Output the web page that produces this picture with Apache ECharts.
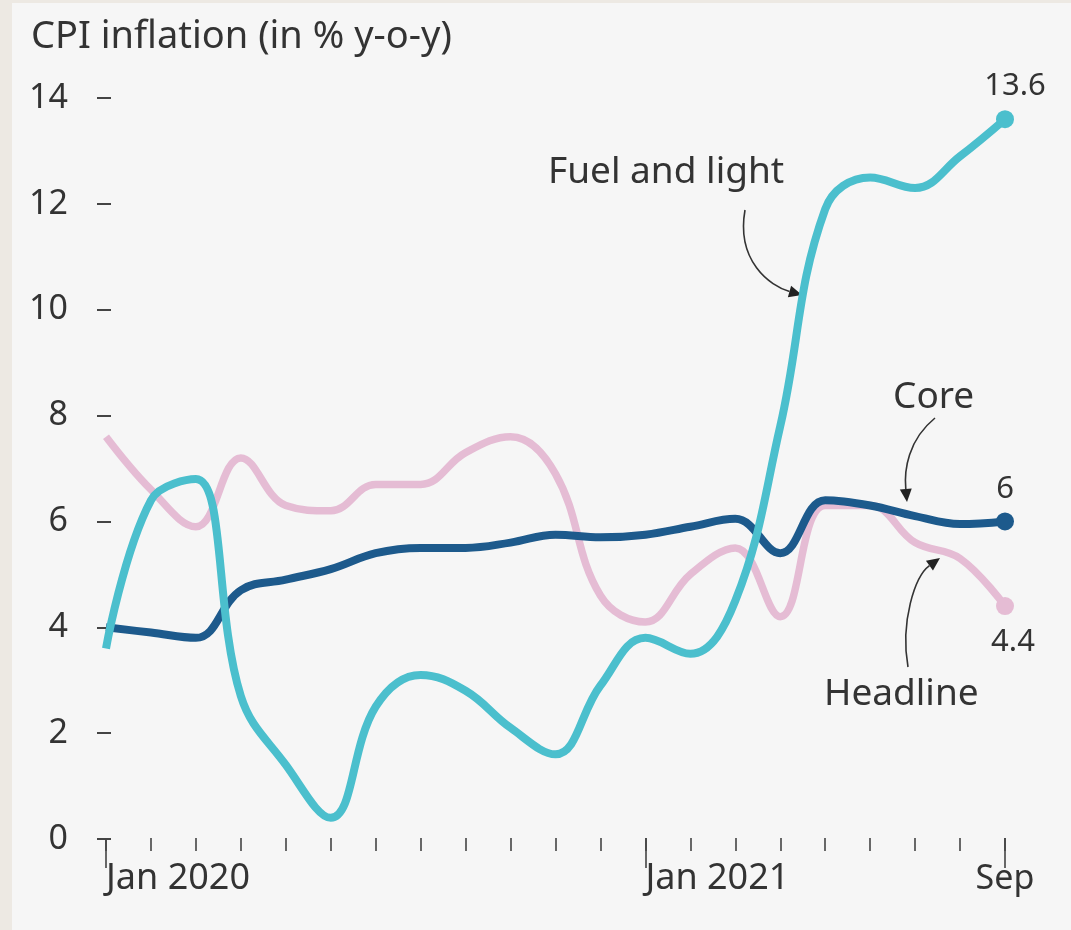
<!DOCTYPE html>
<html>
<head>
<meta charset="utf-8">
<script src="https://cdn.jsdelivr.net/npm/echarts@6/dist/echarts.min.js"></script>
<style>
  html, body { margin: 0; padding: 0; background: #ede9e3; }
  #chart { position: absolute; left: 12px; top: 3px; width: 1059px; height: 927px; background: #f6f6f6; }
</style>
</head>
<body>
<div id="chart"></div>
<script>
// months Jan 2020 .. Sep 2021
var months = ['Jan 2020', 'Feb 2020', 'Mar 2020', 'Apr 2020', 'May 2020', 'Jun 2020',
    'Jul 2020', 'Aug 2020', 'Sep 2020', 'Oct 2020', 'Nov 2020', 'Dec 2020',
    'Jan 2021', 'Feb 2021', 'Mar 2021', 'Apr 2021', 'May 2021', 'Jun 2021',
    'Jul 2021', 'Aug 2021', 'Sep 2021'];
var tickLabels = { 0: 'Jan 2020', 12: 'Jan 2021', 20: 'Sep' };

var headline = [7.6, 6.6, 5.9, 7.2, 6.3, 6.2, 6.7, 6.7, 7.3, 7.6, 6.9, 4.6, 4.1, 5.0, 5.5, 4.2, 6.3, 6.3, 5.6, 5.3, 4.4];
var core = [4.0, 3.9, 3.8, 4.7, 4.9, 5.1, 5.4, 5.5, 5.5, 5.6, 5.75, 5.7, 5.75, 5.9, 6.05, 5.4, 6.4, 6.3, 6.1, 5.95, 6.0];
var fuel = [3.6, 6.4, 6.8, 2.7, 1.4, 0.4, 2.5, 3.1, 2.8, 2.1, 1.6, 2.9, 3.8, 3.5, 4.5, 7.8, 11.9, 12.5, 12.3, 12.9, 13.6];

var FONT = 'Noto Sans';
var TEXT = '#333';
var COLORS = { headline: '#e5bcd4', core: '#1d5a8c', fuel: '#4bbfcd' };

var chart = echarts.init(document.getElementById('chart'));
var last = months.length - 1;

// chart div sits 12px right, 3px down in the page
function arrow(p0, c1, c2, p1) {
    var ang = Math.atan2(p1[1] - c2[1], p1[0] - c2[0]);
    var L = 13, W = 6;
    var bx = p1[0] - L * Math.cos(ang), by = p1[1] - L * Math.sin(ang);
    var nx = -Math.sin(ang) * W, ny = Math.cos(ang) * W;
    return [{
        type: 'bezierCurve',
        shape: { x1: p0[0], y1: p0[1], cpx1: c1[0], cpy1: c1[1], cpx2: c2[0], cpy2: c2[1],
                 x2: bx, y2: by },
        style: { stroke: '#333', lineWidth: 1.6, fill: null }
    }, {
        type: 'polygon',
        shape: { points: [[p1[0], p1[1]], [bx + nx, by + ny], [bx - nx, by - ny]] },
        style: { fill: '#222' }
    }];
}

function label(text, x, y) {
    return {
        type: 'text', x: x, y: y,
        style: { text: text, font: '37px "' + FONT + '"', fill: TEXT, align: 'left', verticalAlign: 'middle' }
    };
}

var graphics = [
    label('Fuel and light', 536, 169),
    label('Core', 881, 394),
    label('Headline', 812, 691)
].concat(
    arrow([733, 207], [724, 258], [758, 283], [790, 292]),
    arrow([923, 415], [896, 437], [892, 467], [895, 499]),
    arrow([896, 664], [888, 619], [903, 573], [928, 555])
);

function endPoint(vals, color, pos, dist, dx) {
    return {
        type: 'scatter', z: 5,
        symbolSize: 18,
        itemStyle: { color: color, opacity: 1 },
        label: {
            show: true, position: pos, distance: dist, offset: [dx, 0],
            fontFamily: FONT, fontSize: 31, color: TEXT
        },
        data: [[last, vals[last]]]
    };
}

chart.setOption({
    animation: false,
    textStyle: { fontFamily: FONT },
    title: {
        text: 'CPI inflation (in % y-o-y)',
        left: 14, top: 10,
        textStyle: { fontFamily: FONT, fontSize: 38, fontWeight: 'normal', color: TEXT }
    },
    grid: { left: 94, right: 66, top: 95, bottom: 91 },
    xAxis: [{
        type: 'category', data: months, boundaryGap: false, offset: -1,
        axisLine: { show: false },
        axisTick: { show: true, interval: 0, length: 13, lineStyle: { color: '#444', width: 1.6 } },
        axisLabel: { show: false }
    }, {
        type: 'category', data: months, boundaryGap: false, offset: -1, position: 'bottom',
        axisLine: { show: false },
        axisTick: {
            show: true, length: 30, lineStyle: { color: '#444', width: 1.6 },
            interval: function (i) { return tickLabels[i] !== undefined; }
        },
        axisLabel: {
            show: true, align: 'left', margin: 23, fontFamily: FONT, fontSize: 36, color: TEXT,
            interval: function (i) { return i === 0 || i === 12; },
            formatter: function (v, i) { return tickLabels[i] || ''; }
        }
    }, {
        type: 'category', data: months, boundaryGap: false, offset: -1, position: 'bottom',
        axisLine: { show: false },
        axisTick: { show: false },
        axisLabel: {
            show: true, align: 'center', margin: 24, fontFamily: FONT, fontSize: 34, color: TEXT,
            interval: function (i) { return i === last; },
            formatter: function (v, i) { return tickLabels[i] || ''; }
        }
    }],
    yAxis: {
        type: 'value', min: 0, max: 14, interval: 2, offset: -5,
        splitLine: { show: false },
        axisLine: { show: false },
        axisTick: { show: true, length: 14, lineStyle: { color: '#444', width: 2 } },
        axisLabel: { margin: 43, fontFamily: FONT, fontSize: 34, color: TEXT }
    },
    series: [{
        name: 'Headline', type: 'line', data: headline, smooth: 0.4, showSymbol: false,
        lineStyle: { color: COLORS.headline, width: 7.5 }, z: 2
    }, {
        name: 'Core', type: 'line', data: core, smooth: 0.4, showSymbol: false,
        lineStyle: { color: COLORS.core, width: 8 }, z: 3
    }, {
        name: 'Fuel and light', type: 'line', data: fuel, smooth: 0.4, showSymbol: false,
        lineStyle: { color: COLORS.fuel, width: 8 }, z: 4
    },
    endPoint(headline, COLORS.headline, 'bottom', 12, 8),
    endPoint(core, COLORS.core, 'top', 8, 0),
    endPoint(fuel, COLORS.fuel, 'top', 8, 10)
    ],
    graphic: graphics
});
</script>
</body>
</html>
